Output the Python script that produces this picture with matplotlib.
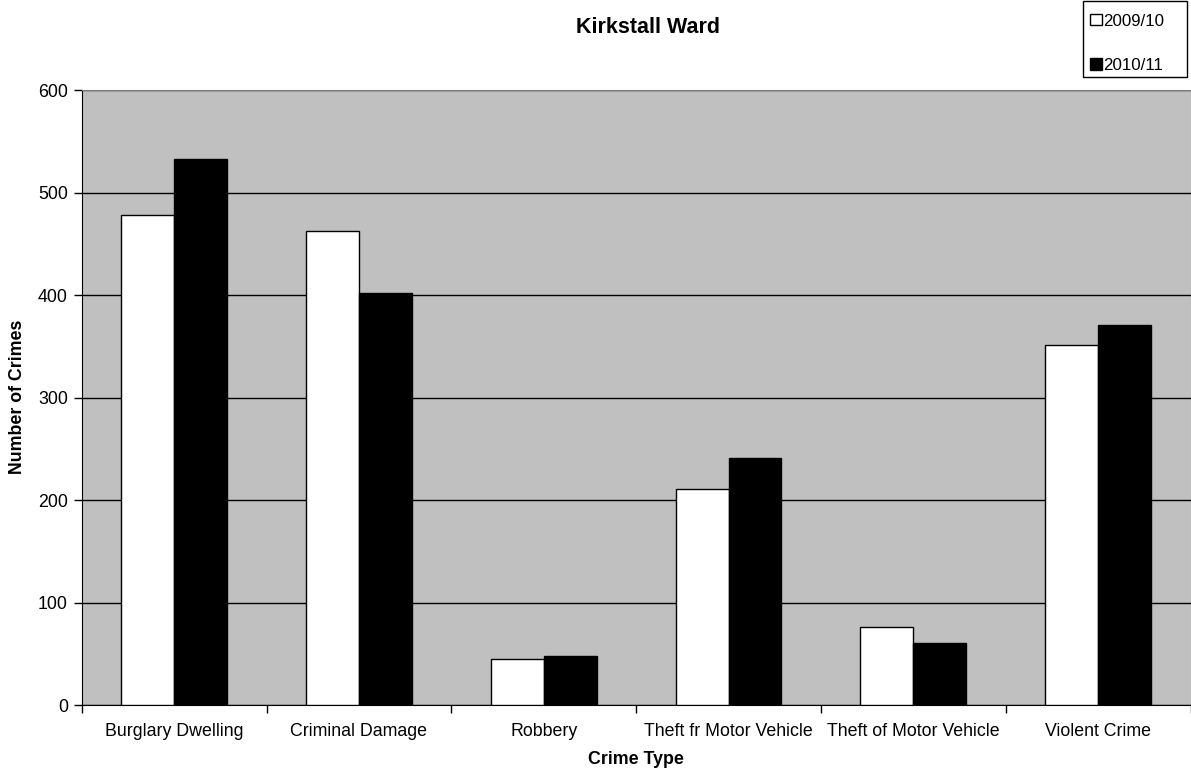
import matplotlib
matplotlib.use("Agg")
import matplotlib.pyplot as plt
from matplotlib.patches import Rectangle
import numpy as np

plt.rcParams['font.family'] = ['Liberation Sans', 'DejaVu Sans']

categories = ["Burglary Dwelling", "Criminal Damage", "Robbery",
              "Theft fr Motor Vehicle", "Theft of Motor Vehicle", "Violent Crime"]
crimes_0910 = [478, 462, 45, 211, 76, 351]
crimes_1011 = [533, 402, 48, 241, 61, 371]
series_labels = ["2009/10", "2010/11"]

W, H = 1191, 774
fig = plt.figure(figsize=(W / 100, H / 100), dpi=100)
ax = fig.add_axes([0.0686, 0.089, 0.931, 0.7947])
ax.set_facecolor('#C0C0C0')

x = np.arange(len(categories))
w = 0.286
ax.bar(x - w/2, crimes_0910, w, color='white', edgecolor='black', linewidth=1.0,
       label=series_labels[0], zorder=3)
ax.bar(x + w/2, crimes_1011, w, color='black', edgecolor='black', linewidth=1.0,
       label=series_labels[1], zorder=3)

ax.set_xlim(-0.5, len(categories) - 0.5)
ax.set_ylim(0, 600)
ax.set_yticks(range(0, 601, 100))
ax.yaxis.grid(True, color='black', linewidth=1.0, zorder=1)
ax.set_axisbelow(True)

# category labels in the middle, tick marks between categories
ax.set_xticks(x)
ax.set_xticklabels(categories)
ax.tick_params(axis='x', which='major', length=0, pad=13, labelsize=12.8)
ax.set_xticks(np.arange(-0.5, len(categories), 1.0), minor=True)
ax.tick_params(axis='x', which='minor', length=6, width=1, color='black')
ax.tick_params(axis='y', length=6, width=1, labelsize=12.8, pad=4)

for s in ['top', 'right']:
    ax.spines[s].set_color('#808080')
ax.spines['left'].set_color('black')
ax.spines['bottom'].set_color('black')

ax.set_xlabel("Crime Type", fontsize=12.8, fontweight='bold', labelpad=8)
fig.text(18 / W, 0.487, "Number of Crimes", rotation=90, ha='center', va='center',
         fontsize=12.8, fontweight='bold')
fig.text(0.544, 0.964, "Kirkstall Ward", ha='center', va='center',
         fontsize=15.5, fontweight='bold')

# legend without frame, box drawn separately (Excel style, wide right margin)
leg = fig.legend(loc='upper left', bbox_to_anchor=(1090 / W, 1 - 13.5 / H), fontsize=12.2,
                 frameon=False, handlelength=0.68, handleheight=0.68, handletextpad=0.1,
                 labelspacing=1.74, borderpad=0, borderaxespad=0)
fig.patches.append(Rectangle((1083 / W, 1 - 77 / H), 104 / W, 76 / H,
                             transform=fig.transFigure, fill=False,
                             edgecolor='black', linewidth=1.0))

fig.savefig("out.png", dpi=100)
